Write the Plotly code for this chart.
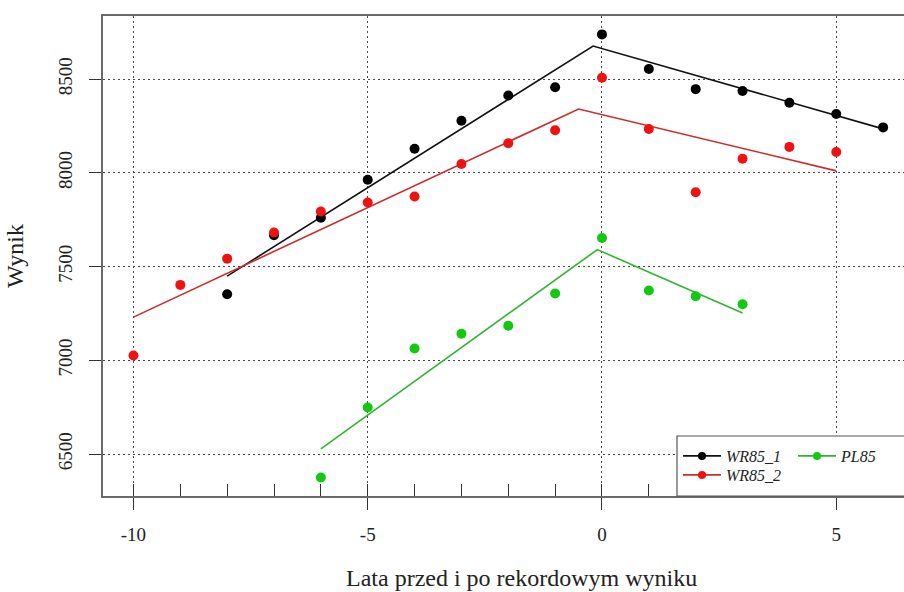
import plotly.graph_objects as go

# Years relative to the record result
years_wr1 = [-8, -7, -6, -5, -4, -3, -2, -1, 0, 1, 2, 3, 4, 5, 6]
score_wr1 = [7352, 7667, 7760, 7963, 8128, 8277, 8412, 8456, 8738, 8553, 8446, 8436, 8373, 8313, 8242]

years_wr2 = [-10, -9, -8, -7, -6, -5, -4, -3, -2, -1, 0, 1, 2, 3, 4, 5]
score_wr2 = [7025, 7402, 7542, 7681, 7793, 7841, 7873, 8047, 8157, 8227, 8507, 8233, 7896, 8075, 8138, 8111]

years_pl = [-6, -5, -4, -3, -2, -1, 0, 1, 2, 3]
score_pl = [6375, 6748, 7063, 7141, 7184, 7356, 7652, 7372, 7341, 7299]

# Broken-line (segmented) fits: start, breakpoint, end
fit_x_wr1 = [-8, -0.19, 6]
fit_y_wr1 = [7449, 8676, 8234]
fit_x_wr2 = [-10, -0.5, 5]
fit_y_wr2 = [7230, 8340, 8010]
fit_x_pl = [-6, -0.1, 3]
fit_y_pl = [6527, 7590, 7252]

x_ticks = [-10, -5, 0, 5]
y_ticks = [6500, 7000, 7500, 8000, 8500]

SERIF = "Liberation Serif"

# each series gets its own small legend block so rows can be placed freely
series = [
    ("WR85_1", years_wr1, score_wr1, fit_x_wr1, fit_y_wr1, "#000000", "#111111", "legend"),
    ("WR85_2", years_wr2, score_wr2, fit_x_wr2, fit_y_wr2, "#f01212", "#d02a2a", "legend3"),
    ("PL85", years_pl, score_pl, fit_x_pl, fit_y_pl, "#12c912", "#2fb52f", "legend2"),
]

fig = go.Figure()
for name, xs, ys, fx, fy, pcol, lcol, leg in series:
    fig.add_trace(go.Scatter(
        x=fx, y=fy, mode="lines", line=dict(color=lcol, width=1.6),
        showlegend=False, hoverinfo="skip", legend=leg,
    ))
    # legend entry: line with a dot
    fig.add_trace(go.Scatter(
        x=[None], y=[None], mode="lines+markers", name=name,
        line=dict(color=lcol, width=1.6), marker=dict(color=pcol, size=8),
        legend=leg,
    ))
    fig.add_trace(go.Scatter(
        x=xs, y=ys, mode="markers", marker=dict(color=pcol, size=10),
        showlegend=False, legend=leg,
    ))

# invisible trace carrying the inner minor-tick axis
fig.add_trace(go.Scatter(x=[None], y=[None], xaxis="x2", showlegend=False))

axis_font = dict(family=SERIF, size=19, color="#222222")
title_font = dict(family=SERIF, size=24, color="#222222")
grid_kw = dict(showgrid=True, gridcolor="#4a4a4a", gridwidth=1, griddash="2px,3px")
legend_font = dict(family=SERIF, size=16, color="#222222", style="italic")


def legend_box(left_px, top_px):
    return dict(
        x=(left_px - 103) / 801, y=(496 - top_px) / 480,
        xanchor="left", yanchor="top",
        bgcolor="rgba(0,0,0,0)", borderwidth=0,
        font=legend_font, itemwidth=38,
    )


fig.update_layout(
    width=904, height=592,
    margin=dict(l=103, r=0, t=16, b=96),
    paper_bgcolor="white", plot_bgcolor="white",
    xaxis=dict(
        range=[-10.65, 6.446], tickmode="array", tickvals=x_ticks,
        ticktext=[str(v) for v in x_ticks],
        ticks="outside", ticklen=12, tickwidth=1.2, tickcolor="#333333",
        ticklabelstandoff=8, tickfont=axis_font,
        showline=True, mirror=True, linecolor="#6a6a6a", linewidth=1.6,
        zeroline=False,
        **grid_kw,
    ),
    xaxis2=dict(
        range=[-10.65, 6.446], overlaying="x", anchor="y", side="bottom",
        tickmode="linear", tick0=0, dtick=1,
        ticks="inside", ticklen=12, tickwidth=1.2, tickcolor="#333333",
        showticklabels=False, showgrid=False, showline=False, zeroline=False,
    ),
    yaxis=dict(
        range=[6276, 8836], tickmode="array", tickvals=y_ticks,
        ticktext=[str(v) for v in y_ticks],
        ticks="outside", ticklen=12, tickwidth=1.2, tickcolor="#333333",
        tickangle=-90, ticklabelstandoff=10, tickfont=axis_font,
        showline=True, mirror=False, linecolor="#6a6a6a", linewidth=1.6,
        zeroline=False,
        title=dict(text="Wynik", font=title_font, standoff=24),
        **grid_kw,
    ),
    legend=legend_box(678, 439),
    legend3=legend_box(678, 458),
    legend2=legend_box(793, 439),
    shapes=[dict(
        type="rect", xref="paper", yref="paper",
        x0=(677 - 103) / 801, x1=1.05, y0=0, y1=(496 - 436) / 480,
        fillcolor="white", line=dict(color="#555555", width=1.2), layer="above",
    )],
    annotations=[dict(
        text="Lata przed i po rekordowym wyniku", font=title_font,
        xref="paper", yref="paper", x=(521 - 103) / 801, y=-(578 - 496) / 480,
        xanchor="center", yanchor="middle", showarrow=False,
    )],
    showlegend=True,
)

fig.write_html("out.html")
